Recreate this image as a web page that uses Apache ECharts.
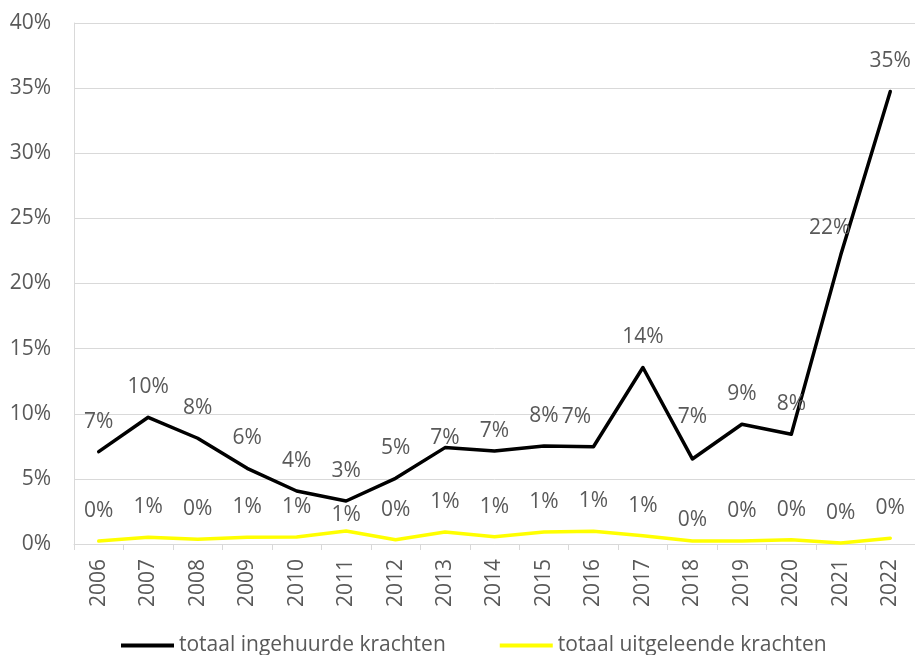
<!DOCTYPE html>
<html>
<head>
<meta charset="utf-8">
<script src="https://cdn.jsdelivr.net/npm/echarts@6/dist/echarts.min.js"></script>
<style>
  html, body { margin: 0; padding: 0; background: #fff; }
  #chart { width: 915px; height: 655px; }
</style>
</head>
<body>
<div id="chart"></div>
<script>
// years on the x axis
var years = ['2006', '2007', '2008', '2009', '2010', '2011', '2012', '2013', '2014',
  '2015', '2016', '2017', '2018', '2019', '2020', '2021', '2022'];

// percentages
var ingehuurd = [7.09, 9.73, 8.12, 5.81, 4.07, 3.3, 5.04, 7.4, 7.14,
  7.53, 7.47, 13.55, 6.53, 9.19, 8.42, 22.2, 34.74];
var uitgeleend = [0.23, 0.52, 0.36, 0.51, 0.54, 1.0, 0.33, 0.92, 0.56,
  0.92, 0.97, 0.64, 0.23, 0.23, 0.33, 0.08, 0.44];

var yTicks = { min: 0, max: 40, step: 5 };

var TXT = '#595959';
var FONT = 'Open Sans';
var FS = 21;

// a few labels in the original were nudged by hand
var blackNudge = { 7: [0, 20], 8: [0, 10], 10: [-17, 0], 12: [0, -12], 15: [-11, 3] };
var yellowNudge = { 5: [0, 14], 12: [0, 9] };

function buildData(values, nudge) {
  return values.map(function (v, i) {
    var item = { value: v };
    if (nudge[i]) {
      item.label = { offset: nudge[i] };
    }
    return item;
  });
}

function makeSeries(name, color, values, nudge) {
  return {
    name: name,
    type: 'line',
    data: buildData(values, nudge),
    symbol: 'circle',
    symbolSize: 1,
    itemStyle: { color: color },
    lineStyle: { color: color, width: 3.5, cap: 'round', join: 'round' },
    label: {
      show: true,
      position: 'top',
      distance: 19,
      color: TXT,
      fontFamily: FONT,
      fontSize: FS,
      formatter: function (p) { return Math.round(p.value) + '%'; }
    },
    emphasis: { disabled: true },
    animation: false
  };
}

var chart = echarts.init(document.getElementById('chart'));

chart.setOption({
  animation: false,
  grid: { left: 74, top: 23, right: -2, bottom: 111, containLabel: false },
  legend: {
    left: 116,
    top: 630,
    itemWidth: 53,
    itemHeight: 20,
    itemGap: 54,
    icon: 'path://M0,8 L53,8 L53,12 L0,12 Z',
    textStyle: { color: TXT, fontFamily: FONT, fontSize: FS },
    data: ['totaal ingehuurde krachten', 'totaal uitgeleende krachten']
  },
  xAxis: {
    type: 'category',
    data: years,
    boundaryGap: true,
    axisLine: { lineStyle: { color: '#d9d9d9', width: 1 } },
    axisTick: { show: true, length: 6, lineStyle: { color: '#d9d9d9' } },
    axisLabel: {
      rotate: 90,
      margin: 15,
      color: TXT,
      fontFamily: FONT,
      fontSize: FS
    }
  },
  yAxis: {
    type: 'value',
    min: yTicks.min,
    max: yTicks.max,
    interval: yTicks.step,
    axisLine: { show: true, lineStyle: { color: '#d9d9d9' } },
    axisTick: { show: false },
    splitLine: { lineStyle: { color: '#d9d9d9', width: 1 } },
    axisLabel: {
      margin: 23,
      color: TXT,
      fontFamily: FONT,
      fontSize: FS,
      formatter: '{value}%'
    }
  },
  series: [
    makeSeries('totaal ingehuurde krachten', '#000000', ingehuurd, blackNudge),
    makeSeries('totaal uitgeleende krachten', '#ffff00', uitgeleend, yellowNudge)
  ]
});
</script>
</body>
</html>
